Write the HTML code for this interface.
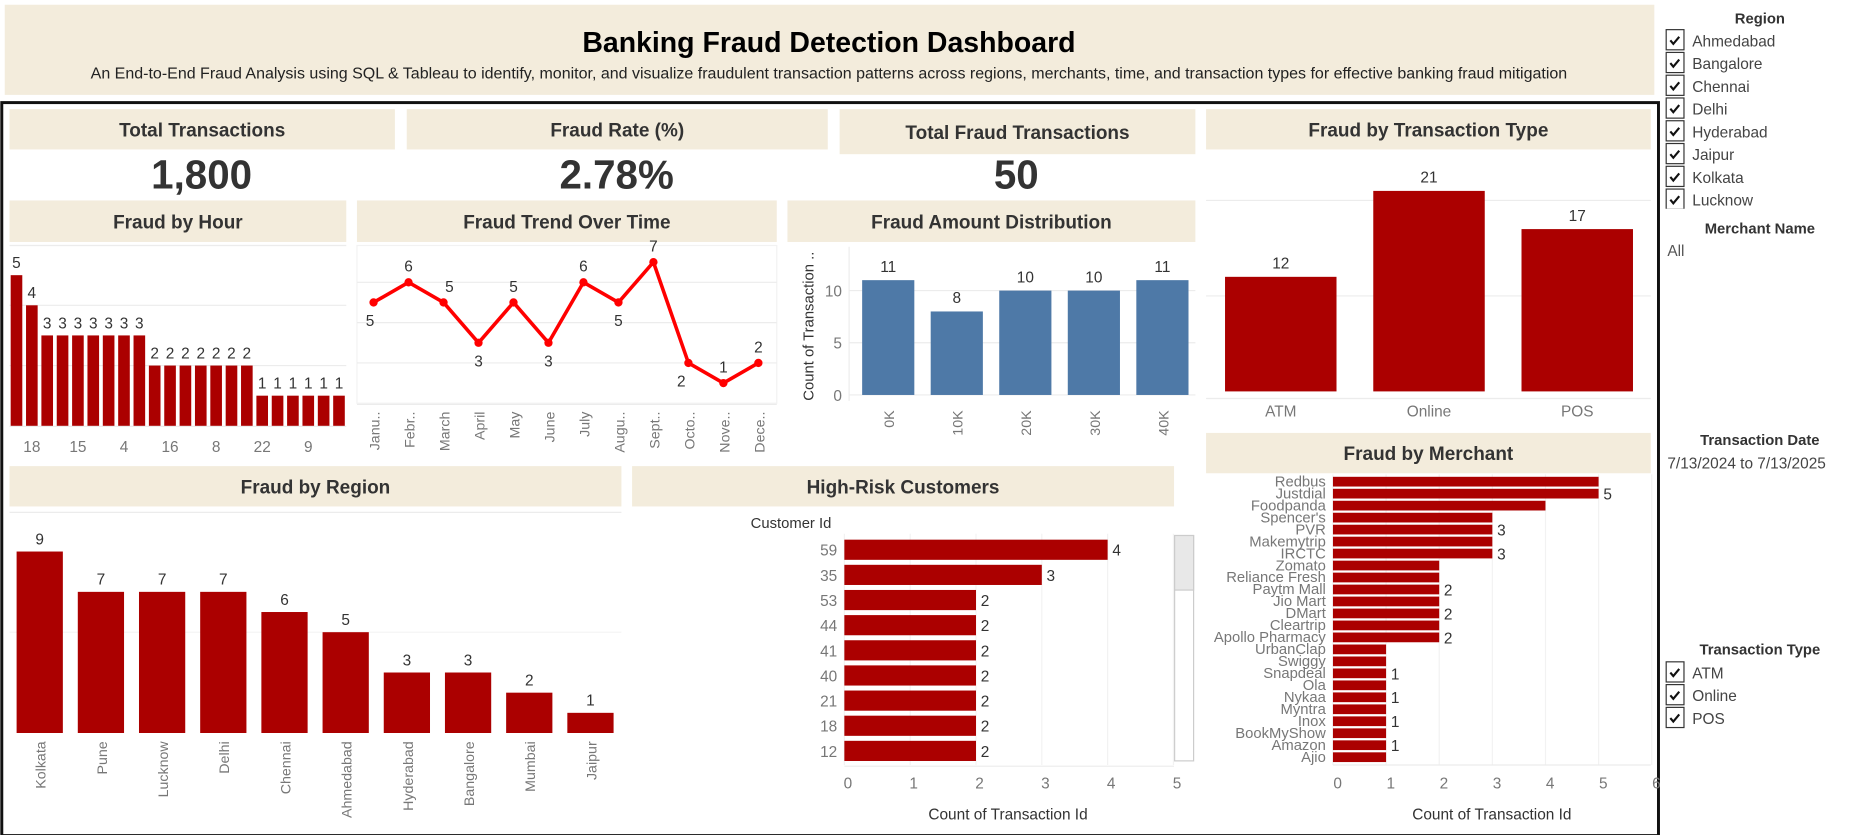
<!DOCTYPE html>
<html><head><meta charset="utf-8">
<style>
html,body{margin:0;padding:0;background:#fff;overflow:hidden;}
svg{display:block;font-family:"Liberation Sans",sans-serif;}
</style></head>
<body>
<svg id="dash" width="1850" height="835" viewBox="0 0 1560 704" preserveAspectRatio="none" xmlns="http://www.w3.org/2000/svg"></svg>
<script>
// ---- data ----
const hourLabels = ["19","18","11","3","15","7","12","4","2","10","16","5","14","8","1","13","22","0","6","9","20","21"];
const hourValues = [5,4,3,3,3,3,3,3,3,2,2,2,2,2,2,2,1,1,1,1,1,1];
const months = ["Janu..","Febr..","March","April","May","June","July","Augu..","Sept..","Octo..","Nove..","Dece.."];
const monthValues = [5,6,5,3,5,3,6,5,7,2,1,2];
const amountBins = ["0K","10K","20K","30K","40K"];
const amountValues = [11,8,10,10,11];
const amountTicks = [0,5,10];
const typeCats = ["ATM","Online","POS"];
const typeValues = [12,21,17];
const regions = ["Kolkata","Pune","Lucknow","Delhi","Chennai","Ahmedabad","Hyderabad","Bangalore","Mumbai","Jaipur"];
const regionValues = [9,7,7,7,6,5,3,3,2,1];
const customers = ["59","35","53","44","41","40","21","18","12"];
const customerValues = [4,3,2,2,2,2,2,2,2];
const customerTicks = [0,1,2,3,4,5];
const merchants = ["Redbus","Justdial","Foodpanda","Spencer's","PVR","Makemytrip","IRCTC","Zomato","Reliance Fresh","Paytm Mall","Jio Mart","DMart","Cleartrip","Apollo Pharmacy","UrbanClap","Swiggy","Snapdeal","Ola","Nykaa","Myntra","Inox","BookMyShow","Amazon","Ajio"];
const merchantValues = [5,5,4,3,3,3,3,2,2,2,2,2,2,2,1,1,1,1,1,1,1,1,1,1];
const merchantTicks = [0,1,2,3,4,5,6];
const regionFilter = ["Ahmedabad","Bangalore","Chennai","Delhi","Hyderabad","Jaipur","Kolkata","Lucknow"];
const typeFilter = ["ATM","Online","POS"];

const NS="http://www.w3.org/2000/svg";
const svg=document.getElementById('dash');
function el(tag,attrs,parent){const e=document.createElementNS(NS,tag);for(const k in attrs)e.setAttribute(k,attrs[k]);(parent||svg).appendChild(e);return e;}
function txt(x,y,s,size,fill,anchor,weight,parent,rot){const t=el('text',{x:x,y:y,'font-size':size,fill:fill,'text-anchor':anchor||'middle','font-weight':weight||'normal'},parent);if(rot!==undefined)t.setAttribute('transform','rotate('+rot+' '+x+' '+y+')');t.textContent=s;return t;}
const CREAM="#f3ecdc", RED="#ab0000", BLUE="#4e79a7", GRID="#ececec", AX="#777", DARK="#333";

// header
let g=el('g',{});


el('rect',{x:4,y:4,width:1391,height:76,fill:CREAM},g);
let t=txt(699,44,"Banking Fraud Detection Dashboard",24,"#000","middle","bold",g);

t=txt(699,66,"An End-to-End Fraud Analysis using SQL & Tableau to identify, monitor, and visualize fraudulent transaction patterns across regions, merchants, time, and transaction types for effective banking fraud mitigation",13.5,"#222","middle","normal",g);

// frame
let fr=el('rect',{x:1.5,y:86.5,width:1397,height:618,fill:"none",stroke:"#111","stroke-width":2.5});


function header(x,y,w,h,label,name){const gg=el('g',{});el('rect',{x:x,y:y,width:w,height:h,fill:CREAM},gg);txt(x+w/2,y+h/2+6,label,16,DARK,'middle','bold',gg);return gg;}
header(8,92,325,34,"Total Transactions","kpi-total-transactions-header");
header(343,92,355,34,"Fraud Rate (%)","kpi-fraud-rate-header");
header(708,92,300,38,"Total Fraud Transactions","kpi-total-fraud-header");
header(1017,92,375,34,"Fraud by Transaction Type","type-chart-title");
header(8,169,284,35,"Fraud by Hour","hour-chart-title");
header(301,169,354,35,"Fraud Trend Over Time","trend-chart-title");
header(664,169,344,35,"Fraud Amount Distribution","amount-chart-title");
header(8,393,516,34,"Fraud by Region","region-chart-title");
header(533,393,457,34,"High-Risk Customers","customers-chart-title");
header(1017,365,375,34,"Fraud by Merchant","merchant-chart-title");

t=txt(170,159,"1,800",34,DARK,'middle','bold');
t=txt(520,159,"2.78%",34,DARK,'middle','bold');
t=txt(857,159,"50",34,DARK,'middle','bold');

// ---- Fraud by Hour ----
(function(){
 const gg=el('g',{});
 const base=359, unit=25.4, x0=9, pitch=12.95, bw=9.8;
 el('line',{x1:8,y1:207,x2:292,y2:207,stroke:GRID},gg);
 [2,4].forEach(v=>el('line',{x1:8,y1:base-v*unit,x2:292,y2:base-v*unit,stroke:GRID},gg));
 el('line',{x1:8,y1:base+0.5,x2:292,y2:base+0.5,stroke:GRID},gg);
 hourValues.forEach((v,i)=>{
  const x=x0+i*pitch, h=v*unit;
  const r=el('rect',{x:x,y:base-h,width:bw,height:h,fill:RED},gg);
  
  
  txt(x+bw/2,base-h-6,String(v),13,DARK,'middle','normal',gg);
  if(i%3===1) txt(x+bw/2,381,hourLabels[i],13,AX,'middle','normal',gg);
 });
})();

// ---- Trend ----
(function(){
 const gg=el('g',{});
 const zero=340, unit=17, x0=315, pitch=29.5;
 const belowIdx=[0,3,5,7,9];
 el('rect',{x:301,y:207,width:354,height:133,fill:'none',stroke:'#f2f2f2'},gg);
 [2,4,6].forEach(v=>el('line',{x1:301,y1:zero-v*unit,x2:655,y2:zero-v*unit,stroke:GRID},gg));
 el('line',{x1:301,y1:341,x2:655,y2:341,stroke:GRID},gg);
 const pts=monthValues.map((v,i)=>[x0+i*pitch,zero-v*unit]);
 const pl=el('polyline',{points:pts.map(p=>p.join(',')).join(' '),fill:'none',stroke:'#ff0000','stroke-width':3,'stroke-linejoin':'round'},gg);
 
 
 monthValues.forEach((v,i)=>{
  const [x,y]=pts[i];
  const c=el('circle',{cx:x,cy:y,r:3.5,fill:'#ff0000'},gg);
  
  
  const below=belowIdx.indexOf(i)>=0;
  let ly=below? y+20 : y-9;
  let lx=x;
  if(i===0) lx=x-3;
  if(i===2) lx=x+5;
  if(i===9) lx=x-6;
  txt(lx,ly,String(v),13,DARK,'middle','normal',gg);
  txt(x+5,347,months[i],12,AX,'end','normal',gg,-90);
 });
})();

// ---- Amount Distribution ----
(function(){
 const gg=el('g',{});
 const zero=333, unit=8.8, x0=727, pitch=57.8, bw=44;
 amountTicks.forEach(v=>{el('line',{x1:716,y1:zero-v*unit,x2:1008,y2:zero-v*unit,stroke:GRID},gg);txt(710,zero-v*unit+5,String(v),13,AX,'end','normal',gg);});
 el('line',{x1:716,y1:208,x2:716,y2:338,stroke:GRID},gg);
 txt(686,275,"Count of Transaction ..",12.5,DARK,'middle','normal',gg,-90);
 amountValues.forEach((v,i)=>{
  const x=x0+i*pitch,h=v*unit;
  const r=el('rect',{x:x,y:zero-h,width:bw,height:h,fill:BLUE},gg);
  
  
  txt(x+bw/2,zero-h-7,String(v),13,DARK,'middle','normal',gg);
  txt(x+bw/2+5,346,amountBins[i],12,AX,'end','normal',gg,-90);
 });
})();

// ---- Transaction type ----
(function(){
 const gg=el('g',{});
 const zero=330, unit=8.05, x0=1033, pitch=125, bw=94;
 el('line',{x1:1017,y1:zero-10*unit,x2:1392,y2:zero-10*unit,stroke:GRID},gg);
 el('line',{x1:1017,y1:zero-20*unit,x2:1392,y2:zero-20*unit,stroke:GRID},gg);
 el('line',{x1:1017,y1:zero+6,x2:1392,y2:zero+6,stroke:GRID},gg);
 typeValues.forEach((v,i)=>{
  const x=x0+i*pitch,h=v*unit;
  const r=el('rect',{x:x,y:zero-h,width:bw,height:h,fill:RED},gg);
  
  
  txt(x+bw/2,zero-h-7,String(v),13,DARK,'middle','normal',gg);
  txt(x+bw/2,351,typeCats[i],13,AX,'middle','normal',gg);
 });
})();

// ---- Region ----
(function(){
 const gg=el('g',{});
 const zero=618, unit=17, x0=14, pitch=51.6, bw=39;
 el('line',{x1:8,y1:432,x2:524,y2:432,stroke:GRID},gg);
 [5].forEach(v=>el('line',{x1:8,y1:zero-v*unit,x2:524,y2:zero-v*unit,stroke:'#f4f4f4'},gg));
 regionValues.forEach((v,i)=>{
  const x=x0+i*pitch,h=v*unit;
  const r=el('rect',{x:x,y:zero-h,width:bw,height:h,fill:RED},gg);
  
  
  txt(x+bw/2,zero-h-6,String(v),13,DARK,'middle','normal',gg);
  txt(x+bw/2+5,625,regions[i],12,AX,'end','normal',gg,-90);
 });
})();

// ---- Customers ----
(function(){
 const gg=el('g',{});
 const x0=712, unit=55.5, y0=455, pitch=21.2, bh=17;
 txt(633,445,"Customer Id",12.5,DARK,'start','normal',gg);
 customerTicks.forEach(v=>{const x=x0+v*unit;el('line',{x1:x,y1:450,x2:x,y2:645,stroke:'#f2f2f2'},gg);txt(x+3,665,String(v),13,AX,'middle','normal',gg);});
 el('line',{x1:712,y1:646,x2:990,y2:646,stroke:GRID},gg);
 customerValues.forEach((v,i)=>{
  const y=y0+i*pitch,w=v*unit;
  const r=el('rect',{x:x0,y:y,width:w,height:bh,fill:RED},gg);
  
  
  txt(x0+w+4,y+bh/2+5,String(v),13,DARK,'start','normal',gg);
  txt(706,y+bh/2+5,customers[i],13,AX,'end','normal',gg);
 });
 txt(850,691,"Count of Transaction Id",13,DARK,'middle','normal',gg);
 const sb=el('g',{},gg);
 
 
 el('rect',{x:990.5,y:451.5,width:16,height:190,fill:'#fff',stroke:'#ccc'},sb);
 el('rect',{x:990.5,y:451.5,width:16,height:46,fill:'#e8e8e8',stroke:'#ccc'},sb);
})();

// ---- Merchant ----
(function(){
 const gg=el('g',{});
 const x0=1124, unit=44.8, y0=402, pitch=10.1, bh=8.2;
 merchantTicks.forEach(v=>{const x=x0+v*unit;el('line',{x1:x,y1:400,x2:x,y2:645,stroke:'#f2f2f2'},gg);txt(x+4,665,String(v),13,AX,'middle','normal',gg);});
 el('line',{x1:1124,y1:645,x2:1392,y2:645,stroke:GRID},gg);
 const labelled=[1,4,6,9,11,13,16,18,20,22];
 merchantValues.forEach((v,i)=>{
  const y=y0+i*pitch,w=v*unit;
  const r=el('rect',{x:x0,y:y,width:w,height:bh,fill:RED},gg);
  
  
  if(labelled.indexOf(i)>=0) txt(x0+w+4,y+bh/2+5,String(v),13,DARK,'start','normal',gg);
  txt(1118,y+bh/2+4,merchants[i],12.5,AX,'end','normal',gg);
 });
 txt(1258,691,"Count of Transaction Id",13,DARK,'middle','normal',gg);
})();

// ---- Filters ----
function checkList(items,y0,name){
 items.forEach((s,i)=>{
  const y=y0+i*19.2;
  const gg=el('g',{});
  
  
  el('rect',{x:1405,y:y-9,width:15,height:17,fill:'#fff',stroke:'#333','stroke-width':1},gg);
  el('path',{d:'M'+(1408.5)+' '+(y)+' l2.5 3 l5 -6',fill:'none',stroke:'#111','stroke-width':1.8},gg);
  txt(1427,y+5,s,13,'#444','start','normal',gg);
 });
}
t=txt(1484,20,"Region",12.5,DARK,'middle','bold');
checkList(regionFilter,34,'region-filter');
el('rect',{x:1400,y:176,width:160,height:6,fill:'#fff'});
t=txt(1484,197,"Merchant Name",12.5,DARK,'middle','bold');
t=txt(1406,216,"All",13,'#555','start','normal');
t=txt(1484,375,"Transaction Date",12.5,DARK,'middle','bold');
t=txt(1406,395,"7/13/2024 to 7/13/2025",13,'#444','start','normal');
t=txt(1484,552,"Transaction Type",12.5,DARK,'middle','bold');
checkList(typeFilter,567,'type-filter');
</script>
</body></html>
